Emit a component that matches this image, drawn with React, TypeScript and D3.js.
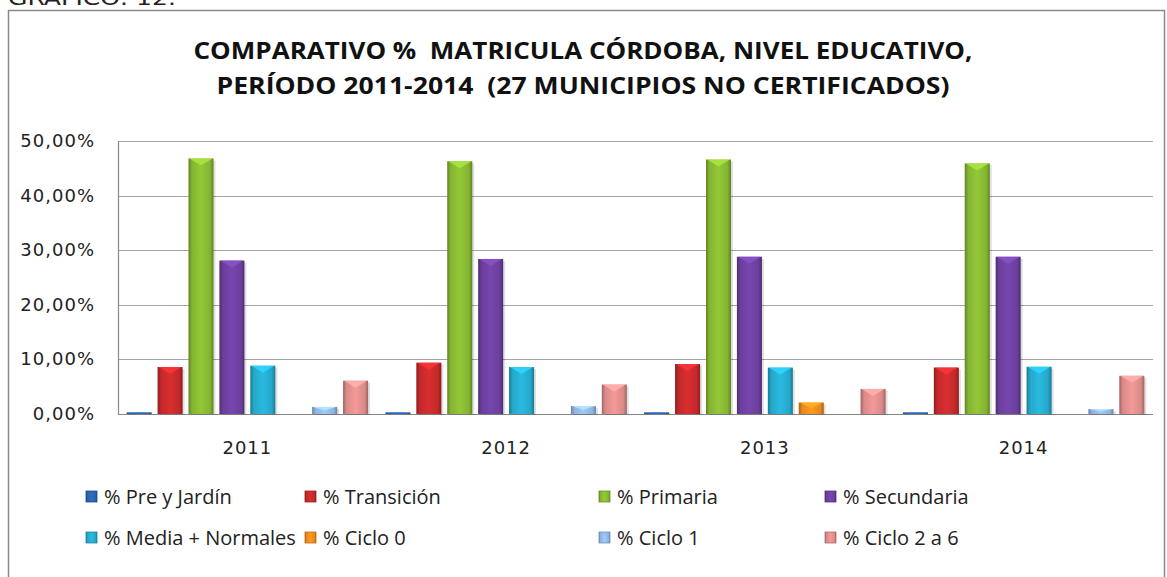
import React from 'react';
import * as d3 from 'd3';

// Categories (school years)
const YEARS = ['2011', '2012', '2013', '2014'];

// Series names as in the legend
const SERIES = [
  '% Pre y Jardín',
  '% Transición',
  '% Primaria',
  '% Secundaria',
  '% Media + Normales',
  '% Ciclo 0',
  '% Ciclo 1',
  '% Ciclo 2 a 6',
];

// Values (%) per series, one entry per year
const PRE_JARDIN = [0.3, 0.3, 0.3, 0.3];
const TRANSICION = [8.6, 9.4, 9.15, 8.5];
const PRIMARIA = [46.8, 46.3, 46.6, 45.9];
const SECUNDARIA = [28.1, 28.4, 28.8, 28.8];
const MEDIA = [8.85, 8.6, 8.5, 8.65];
const CICLO_0 = [0, 0, 2.1, 0];
const CICLO_1 = [1.3, 1.45, 0, 0.9];
const CICLO_2_6 = [6.1, 5.4, 4.6, 7.0];

const VALUES = [PRE_JARDIN, TRANSICION, PRIMARIA, SECUNDARIA, MEDIA, CICLO_0, CICLO_1, CICLO_2_6];

const Y_TICKS = [0, 10, 20, 30, 40, 50];

const COLORS = ['#2a62ab', '#c3292b', '#84b431', '#6b3f9c', '#25a7c9', '#e8891c', '#8fb4e2', '#da8a89'];

const W = 1167;
const H = 577;
const plot = { left: 118, right: 1153, top: 141, bottom: 414 };

const App: React.FC = () => {
  const x0 = d3.scaleBand<string>().domain(YEARS).range([plot.left, plot.right]);
  const x1 = d3
    .scaleBand<string>()
    .domain(SERIES)
    .range([0, x0.bandwidth()])
    .paddingInner(0.19)
    .paddingOuter(0.28);
  const y = d3.scaleLinear().domain([0, 50]).range([plot.bottom, plot.top]);

  const fmt = (v: number) => v.toFixed(2).replace('.', ',') + '%';

  return (
    <svg
      width={W}
      height={H}
      style={{ position: 'absolute', left: 0, top: 0, background: '#fff' }}
    >
      <defs>
        {COLORS.map((c, i) => {
          const dark = d3.color(c)!.darker(0.9).formatHex();
          const light = d3.color(c)!.brighter(0.3).formatHex();
          return (
            <linearGradient key={i} id={`g${i}`} x1="0" x2="1" y1="0" y2="0">
              <stop offset="0" stopColor={dark} />
              <stop offset="0.14" stopColor={c} />
              <stop offset="0.5" stopColor={light} />
              <stop offset="0.86" stopColor={c} />
              <stop offset="1" stopColor={dark} />
            </linearGradient>
          );
        })}
      </defs>

      {/* caption above the frame, mostly cut off */}
      <text x={8} y={5} fontFamily="DejaVu Sans" fontSize={19} fill="#222" textLength={168} lengthAdjust="spacingAndGlyphs">
        GRAFICO: 12.
      </text>

      {/* chart frame */}
      <rect x={8.5} y={10.5} width={1156} height={580} fill="#fff" stroke="#8a8a8a" strokeWidth={1.5} />

      {/* title */}
      <g fontFamily="Open Sans" fontWeight="bold" fontSize={24} fill="#111" textAnchor="middle">
        <text x={583} y={59} textLength={779} lengthAdjust="spacingAndGlyphs">
          {'COMPARATIVO % \u00A0MATRICULA CÓRDOBA, NIVEL EDUCATIVO,'}
        </text>
        <text x={583} y={94} textLength={733} lengthAdjust="spacingAndGlyphs">
          {'PERÍODO 2011-2014 \u00A0(27 MUNICIPIOS NO CERTIFICADOS)'}
        </text>
      </g>

      {/* gridlines */}
      {Y_TICKS.map((t) => (
        <line
          key={t}
          x1={plot.left}
          x2={plot.right}
          y1={Math.round(y(t)) + 0.5}
          y2={Math.round(y(t)) + 0.5}
          stroke={t === 0 ? '#888' : '#a6a6a6'}
          strokeWidth={1.2}
        />
      ))}
      <line x1={plot.left + 0.5} x2={plot.left + 0.5} y1={plot.top} y2={plot.bottom} stroke="#888" strokeWidth={1.2} />

      {/* y labels */}
      <g fontFamily="DejaVu Sans" fontSize={18} fill="#222" textAnchor="end" letterSpacing={1}>
        {Y_TICKS.map((t) => (
          <text key={t} x={95} y={y(t) + 6}>
            {fmt(t)}
          </text>
        ))}
      </g>

      {/* bars */}
      {YEARS.map((yr, yi) => (
        <g key={yr} transform={`translate(${x0(yr)},0)`}>
          {SERIES.map((s, si) => {
            const v = VALUES[si][yi];
            if (!v) return null;
            const bx = x1(s)!;
            const bw = x1.bandwidth();
            const top = y(v);
            const h = Math.max(1.5, plot.bottom - top);
            const bev = Math.min(7, h / 2);
            const c = COLORS[si];
            return (
              <g key={s}>
                <rect x={bx + 2} y={top + 2} width={bw} height={h - 1} fill="#000" opacity={0.12} />
                <rect x={bx} y={plot.bottom - h} width={bw} height={h} fill={`url(#g${si})`} />
                <polygon
                  points={`${bx + 1},${plot.bottom - h} ${bx + bw - 1},${plot.bottom - h} ${bx + bw / 2},${plot.bottom - h + bev}`}
                  fill={d3.color(c)!.brighter(0.7).formatHex()}
                  opacity={0.85}
                />
              </g>
            );
          })}
        </g>
      ))}

      {/* x labels */}
      <g fontFamily="DejaVu Sans" fontSize={18} fill="#222" textAnchor="middle" letterSpacing={1}>
        {YEARS.map((yr) => (
          <text key={yr} x={x0(yr)! + x0.bandwidth() / 2} y={454}>
            {yr}
          </text>
        ))}
      </g>

      {/* legend */}
      <g fontFamily="Open Sans" fontSize={20} fill="#222">
        {SERIES.map((s, i) => {
          const col = i % 4;
          const row = Math.floor(i / 4);
          const lx = [86, 305, 599, 825][col];
          const ly = [497, 538][row];
          const c = COLORS[i];
          return (
            <g key={s}>
              <rect x={lx} y={ly - 6} width={11} height={11} fill={`url(#g${i})`} stroke={d3.color(c)!.darker(0.6).formatHex()} strokeWidth={0.8} />
              <text x={lx + 18} y={ly + 7}>
                {s}
              </text>
            </g>
          );
        })}
      </g>
    </svg>
  );
};

export default App;
